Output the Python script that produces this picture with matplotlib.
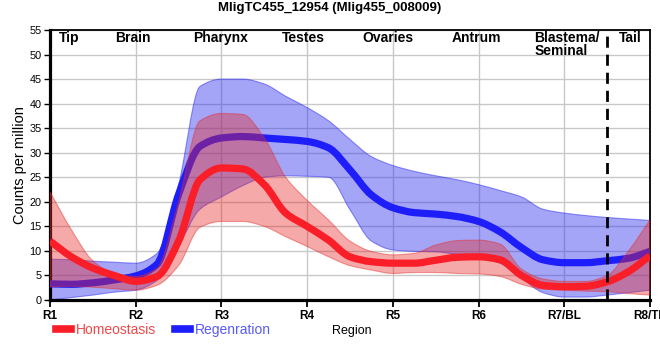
import numpy as np
import matplotlib
matplotlib.use('Agg')
import matplotlib.pyplot as plt
from matplotlib.lines import Line2D
from matplotlib.path import Path
from matplotlib.patches import PathPatch

plt.rcParams['font.family'] = ['Liberation Sans', 'DejaVu Sans']

title = 'MligTC455_12954 (Mlig455_008009)'
tick_labels = ['R1', 'R2', 'R3', 'R4', 'R5', 'R6', 'R7/BL', 'R8/TL']
regions = ['Tip', 'Brain', 'Pharynx', 'Testes', 'Ovaries', 'Antrum']
region_pos = [0.22, 0.97, 1.99, 2.96, 3.94, 4.98]

# sample positions along the body (R1 = 0 ... R8 = 7), every quarter region
pos = np.arange(29) / 4

homeo = [12.0, 8.8, 6.5, 5.0, 3.8, 4.8, 12.0, 24.5, 26.9, 26.7, 23.5, 17.7, 15.0, 12.2,
         8.8, 7.8, 7.5, 7.5, 8.1, 8.7, 8.8, 8.2, 5.0, 3.0, 2.7, 2.8, 3.7, 5.8, 9.0]
homeo_hi = [22.0, 14.3, 8.0, 5.4, 4.8, 6.5, 20.0, 36.5, 38.0, 37.8, 33.0, 25.0, 20.3, 16.3,
            12.0, 9.9, 9.2, 9.5, 11.2, 12.1, 12.2, 11.4, 6.3, 4.3, 3.8, 3.8, 5.0, 10.0, 16.3]
homeo_lo = [2.7, 2.8, 2.6, 2.3, 2.0, 3.0, 7.0, 14.8, 16.0, 16.0, 15.0, 12.9, 10.9, 8.8,
            7.0, 6.1, 5.4, 5.6, 5.6, 5.4, 5.3, 4.8, 3.2, 2.2, 2.0, 1.8, 1.7, 1.3, 1.0]

regen = [3.3, 3.2, 3.5, 4.1, 4.9, 7.3, 21.5, 31.3, 33.0, 33.3, 33.0, 32.7, 32.3, 31.0,
         26.5, 21.4, 18.8, 17.8, 17.5, 17.0, 16.0, 13.9, 10.7, 8.2, 7.6, 7.6, 8.0, 8.5, 9.9]
regen_hi = [8.3, 8.2, 7.9, 7.7, 7.5, 9.5, 23.5, 43.5, 45.0, 45.0, 44.0, 41.5, 39.2, 36.5,
            32.7, 29.2, 27.4, 26.2, 25.3, 24.5, 23.5, 22.3, 21.0, 18.5, 17.7, 17.2, 16.8, 16.5, 16.2]
regen_lo = [0.0, 0.5, 1.0, 1.6, 2.0, 4.0, 11.0, 18.5, 21.0, 23.3, 25.0, 25.3, 25.2, 25.0,
            18.4, 12.0, 10.2, 9.9, 9.8, 9.3, 8.8, 7.5, 4.5, 1.5, 0.6, 0.6, 1.0, 1.5, 2.0]

red = '#fa1e28'
blue = '#1e1efa'


def bezier(x, y):
    # monotone cubic bezier through the points (spline look of the original)
    x = np.asarray(x, float)
    y = np.asarray(y, float)
    h = np.diff(x)
    d = np.diff(y) / h
    m = np.zeros_like(y)
    m[0], m[-1] = d[0], d[-1]
    for k in range(1, len(y) - 1):
        if d[k-1] * d[k] > 0:
            m[k] = 2 / (1 / d[k-1] + 1 / d[k])
    pts = [(x[0], y[0])]
    for k in range(len(x) - 1):
        pts += [(x[k] + h[k]/3, y[k] + m[k]*h[k]/3),
                (x[k+1] - h[k]/3, y[k+1] - m[k+1]*h[k]/3),
                (x[k+1], y[k+1])]
    return pts


def smooth_line(ax, x, y, **kw):
    pts = bezier(x, y)
    codes = [Path.MOVETO] + [Path.CURVE4] * (len(pts) - 1)
    ax.add_patch(PathPatch(Path(pts, codes), fill=False, capstyle='butt', **kw))


def smooth_band(ax, x, lo, hi, **kw):
    up = bezier(x, hi)
    dn = bezier(x[::-1], lo[::-1])
    pts = up + dn + [up[0]]
    codes = ([Path.MOVETO] + [Path.CURVE4] * (len(up) - 1) + [Path.LINETO]
             + [Path.CURVE4] * (len(dn) - 1) + [Path.CLOSEPOLY])
    ax.add_patch(PathPatch(Path(pts, codes), **kw))


fig = plt.figure(figsize=(6.6, 3.6), dpi=100)
ax = fig.add_axes([50/660, 60/360, 600/660, 270/360])

smooth_band(ax, pos, regen_lo, regen_hi, facecolor=(0.16, 0.16, 0.94, 0.42),
            edgecolor=(0.16, 0.16, 0.94, 0.5), lw=0.8, zorder=2)
smooth_line(ax, pos, regen, edgecolor=blue, lw=5.2, zorder=3)
smooth_band(ax, pos, homeo_lo, homeo_hi, facecolor=(0.9, 0.16, 0.16, 0.4),
            edgecolor=(0.9, 0.16, 0.16, 0.45), lw=0.8, zorder=4)
smooth_line(ax, pos, homeo, edgecolor=red, lw=5.2, zorder=5)

ax.axvline(6.5, color='black', lw=2, ls=(0, (4, 2.5)), zorder=6)

ax.set_xlim(0, 7)
ax.set_ylim(0, 55)
ax.set_xticks(range(8))
ax.set_xticklabels(tick_labels, fontsize=8.5, fontweight='bold')
ax.set_yticks(range(0, 56, 5))
ax.tick_params(axis='y', labelsize=7.8, length=4, width=1, pad=2)
ax.tick_params(axis='x', length=5, width=1.3, pad=2)
ax.grid(True, color='#c8c8c8', lw=1)
ax.set_axisbelow(True)

for side in ['left', 'bottom']:
    ax.spines[side].set_linewidth(2.3)
for side in ['top', 'right']:
    ax.spines[side].set_linewidth(1.3)

for name, x in zip(regions, region_pos):
    ax.text(x, 54.8, name, ha='center', va='top', fontsize=10, fontweight='bold', zorder=7)
ax.text(5.65, 54.8, 'Blastema/\nSeminal', ha='left', va='top', fontsize=10,
        fontweight='bold', linespacing=0.95, zorder=7)
ax.text(6.77, 54.8, 'Tail', ha='center', va='top', fontsize=10, fontweight='bold', zorder=7)

ax.set_ylabel('Counts per million', fontsize=10.5, labelpad=1.5)
fig.text(352/660, 1 - 331/360, 'Region', ha='center', va='center', fontsize=9)
fig.suptitle(title, x=0.5, y=1 - 8/360, va='center', fontsize=9.5, fontweight='bold')

handles = [Line2D([], [], color=red, lw=5.5), Line2D([], [], color=blue, lw=5.5)]
leg = fig.legend(handles, ['Homeostasis', 'Regenration'], loc='center left',
                 bbox_to_anchor=(56/660, 1 - 330/360), ncol=2, frameon=False,
                 fontsize=10, handlelength=1.1, handletextpad=0.3, columnspacing=1.4,
                 borderpad=0, borderaxespad=0)
for txt, c in zip(leg.get_texts(), ['#f04848', '#5a5af5']):
    txt.set_color(c)

fig.savefig('out.png', dpi=100)
